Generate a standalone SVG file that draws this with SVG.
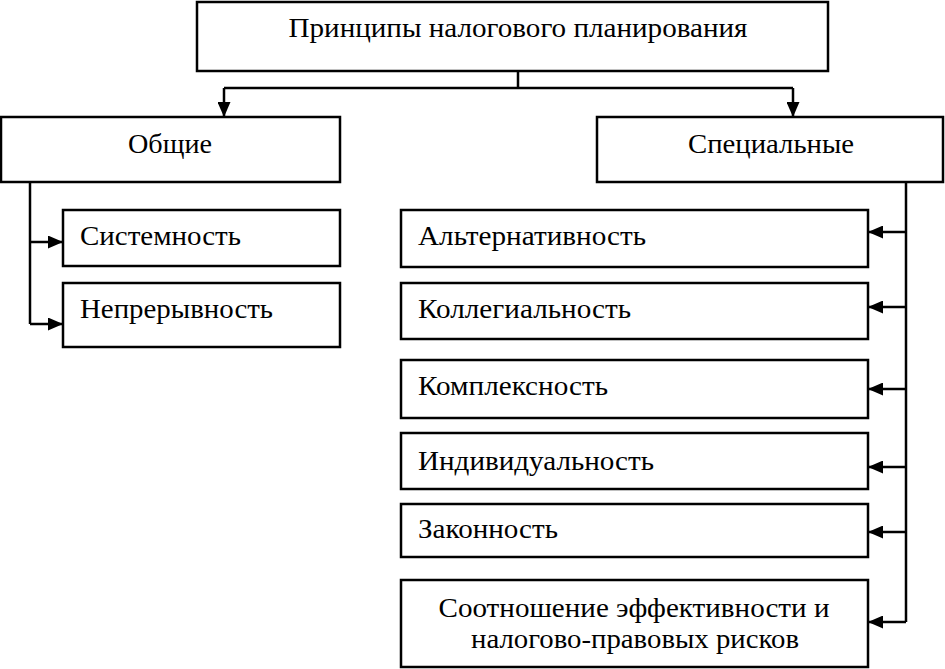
<svg xmlns="http://www.w3.org/2000/svg" width="945" height="669" viewBox="0 0 945 669">
<defs>
<marker id="ah" markerWidth="15" markerHeight="13" refX="15" refY="6.5" orient="auto" markerUnits="userSpaceOnUse">
<path d="M0,0 L15,6.5 L0,13 Z" fill="#000"/>
</marker>
<style>
rect{fill:#fff;stroke:#000;stroke-width:2.5}
text{font-family:"Liberation Serif","Times New Roman",serif;font-size:27px;fill:#000}
.c{text-anchor:middle}
#connectors path{fill:none;stroke:#000;stroke-width:2.5}
</style>
</defs>
<rect x="0" y="0" width="945" height="669" style="stroke:none"/>
<g id="connectors">
<path d="M518,71 V88 M224,88 H793"/>
<path d="M224,88 V117" marker-end="url(#ah)"/>
<path d="M793,88 V117" marker-end="url(#ah)"/>
<path d="M30,182 V324"/>
<path d="M30,242 H63" marker-end="url(#ah)"/>
<path d="M30,324 H63" marker-end="url(#ah)"/>
<path d="M906,182 V622"/>
<path d="M906,232 H868" marker-end="url(#ah)"/>
<path d="M906,307 H868" marker-end="url(#ah)"/>
<path d="M906,389 H868" marker-end="url(#ah)"/>
<path d="M906,467 H868" marker-end="url(#ah)"/>
<path d="M906,532 H868" marker-end="url(#ah)"/>
<path d="M906,622 H868" marker-end="url(#ah)"/>
</g>
<g id="root"><rect x="197" y="2" width="631" height="69"/><text class="c" x="518" y="37" textLength="459" lengthAdjust="spacingAndGlyphs">Принципы налогового планирования</text></g>
<g id="general"><rect x="1" y="117" width="339" height="65"/><text class="c" x="170" y="153" textLength="84" lengthAdjust="spacingAndGlyphs">Общие</text></g>
<g id="special"><rect x="597" y="117" width="346" height="65"/><text class="c" x="771" y="153" textLength="166" lengthAdjust="spacingAndGlyphs">Специальные</text></g>
<g id="sistemnost"><rect x="63" y="210" width="277" height="56"/><text x="80" y="245" textLength="161" lengthAdjust="spacingAndGlyphs">Системность</text></g>
<g id="nepreryvnost"><rect x="63" y="283" width="277" height="64"/><text x="80" y="318" textLength="193" lengthAdjust="spacingAndGlyphs">Непрерывность</text></g>
<g id="alternativnost"><rect x="401" y="210" width="467" height="57"/><text x="418" y="245" textLength="228" lengthAdjust="spacingAndGlyphs">Альтернативность</text></g>
<g id="kollegialnost"><rect x="401" y="283" width="467" height="56"/><text x="418" y="318" textLength="213" lengthAdjust="spacingAndGlyphs">Коллегиальность</text></g>
<g id="kompleksnost"><rect x="401" y="360" width="467" height="58"/><text x="418" y="395" textLength="190" lengthAdjust="spacingAndGlyphs">Комплексность</text></g>
<g id="individualnost"><rect x="401" y="433" width="467" height="56"/><text x="418" y="470" textLength="236" lengthAdjust="spacingAndGlyphs">Индивидуальность</text></g>
<g id="zakonnost"><rect x="401" y="504" width="467" height="53"/><text x="418" y="538" textLength="140" lengthAdjust="spacingAndGlyphs">Законность</text></g>
<g id="sootnoshenie"><rect x="401" y="580" width="467" height="87"/><text class="c" x="634" y="617" textLength="391" lengthAdjust="spacingAndGlyphs">Соотношение эффективности и</text><text class="c" x="635" y="648" textLength="328" lengthAdjust="spacingAndGlyphs">налогово-правовых рисков</text></g>
</svg>
